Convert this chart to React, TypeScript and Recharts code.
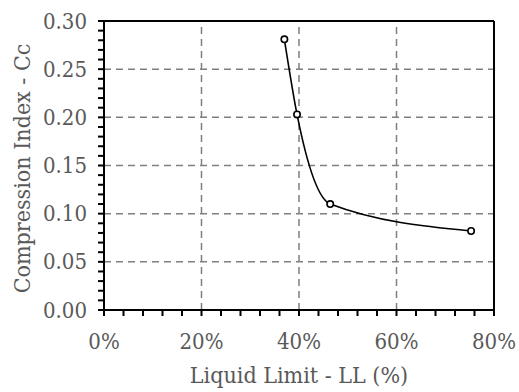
import React from 'react';
import { LineChart, Line, XAxis, YAxis, ReferenceLine } from 'recharts';

const LL = [37.0, 39.6, 46.4, 75.3];
const CC = [0.281, 0.203, 0.11, 0.082];

const X_TICKS = [0, 4, 8, 12, 16, 20, 24, 28, 32, 36, 40, 44, 48, 52, 56, 60, 64, 68, 72, 76, 80];
const X_MAJOR = [0, 20, 40, 60, 80];
const X_GRID = [20, 40, 60];

const Y_TICKS = [0, 0.01, 0.02, 0.03, 0.04, 0.05, 0.06, 0.07, 0.08, 0.09, 0.1, 0.11, 0.12, 0.13, 0.14, 0.15, 0.16, 0.17, 0.18, 0.19, 0.2, 0.21, 0.22, 0.23, 0.24, 0.25, 0.26, 0.27, 0.28, 0.29, 0.3];
const Y_MAJOR = [0, 0.05, 0.1, 0.15, 0.2, 0.25, 0.3];
const Y_GRID = [0.05, 0.1, 0.15, 0.2, 0.25];

const X_TITLE = 'Liquid Limit - LL (%)';
const Y_TITLE = 'Compression Index - Cc';

const data = LL.map((ll, i) => ({ ll, cc: CC[i] }));

const FONT = "'DejaVu Serif', serif";
const TEXT = '#595959';
const TICK_FS = 22;
const TITLE_FS = 23;

const textStyle = (size: number): React.CSSProperties => ({
  fontFamily: FONT,
  fontSize: size,
  fontStretch: 'condensed',
  fill: TEXT,
});

const isMajor = (v: number, list: number[]) => list.some((m) => Math.abs(m - v) < 1e-9);

const XTick = (props: any) => {
  const { x, y, payload } = props;
  if (!isMajor(payload.value, X_MAJOR)) return <g />;
  return (
    <text x={x} y={y} dy={14} textAnchor="middle" dominantBaseline="central" style={textStyle(TICK_FS)}>
      {`${payload.value}%`}
    </text>
  );
};

const YTick = (props: any) => {
  const { x, y, payload } = props;
  if (!isMajor(payload.value, Y_MAJOR)) return <g />;
  return (
    <text x={x} y={y} textAnchor="end" dominantBaseline="central" style={textStyle(TICK_FS)}>
      {payload.value.toFixed(2)}
    </text>
  );
};

const XTitle = (props: any) => {
  const vb = props.viewBox;
  return (
    <text x={vb.x + vb.width / 2} y={375} textAnchor="middle" dominantBaseline="central" style={textStyle(TITLE_FS)}>
      {X_TITLE}
    </text>
  );
};

const YTitle = (props: any) => {
  const vb = props.viewBox;
  const cy = vb.y + vb.height / 2 + 3;
  return (
    <text x={22} y={cy} transform={`rotate(-90 22 ${cy})`} textAnchor="middle" dominantBaseline="central" style={textStyle(TITLE_FS)}>
      {Y_TITLE}
    </text>
  );
};

const Dot = (props: any) => {
  const { cx, cy } = props;
  return <circle cx={cx} cy={cy} r={3.2} fill="#fff" stroke="#000" strokeWidth={1.6} />;
};

export default function App() {
  return (
    <div style={{ position: 'absolute', left: 0, top: 0, width: 519, height: 392, background: '#fff' }}>
      <LineChart width={519} height={392} data={data} margin={{ top: 21, right: 25, bottom: 0, left: 0 }}>
        {X_GRID.map((v) => (
          <ReferenceLine key={`gx${v}`} x={v} stroke="#7f7f7f" strokeWidth={1.5} strokeDasharray="7 5" />
        ))}
        {Y_GRID.map((v) => (
          <ReferenceLine key={`gy${v}`} y={v} stroke="#7f7f7f" strokeWidth={1.5} strokeDasharray="7 5" />
        ))}
        <ReferenceLine y={0.3} stroke="#000" strokeWidth={2} />
        <ReferenceLine x={80} stroke="#000" strokeWidth={2} />
        <XAxis
          type="number"
          dataKey="ll"
          domain={[0, 80]}
          ticks={X_TICKS}
          interval={0}
          height={82}
          tickSize={6}
          tickMargin={11}
          axisLine={{ stroke: '#000', strokeWidth: 2 }}
          tickLine={{ stroke: '#000', strokeWidth: 2 }}
          tick={<XTick />}
          label={<XTitle />}
        />
        <YAxis
          type="number"
          dataKey="cc"
          domain={[0, 0.3]}
          ticks={Y_TICKS}
          interval={0}
          width={104}
          tickSize={6}
          tickMargin={11}
          axisLine={{ stroke: '#000', strokeWidth: 2 }}
          tickLine={{ stroke: '#000', strokeWidth: 2 }}
          tick={<YTick />}
          label={<YTitle />}
        />
        <Line
          type="monotone"
          dataKey="cc"
          stroke="#000"
          strokeWidth={1.6}
          dot={<Dot />}
          activeDot={false}
          isAnimationActive={false}
        />
      </LineChart>
    </div>
  );
}
